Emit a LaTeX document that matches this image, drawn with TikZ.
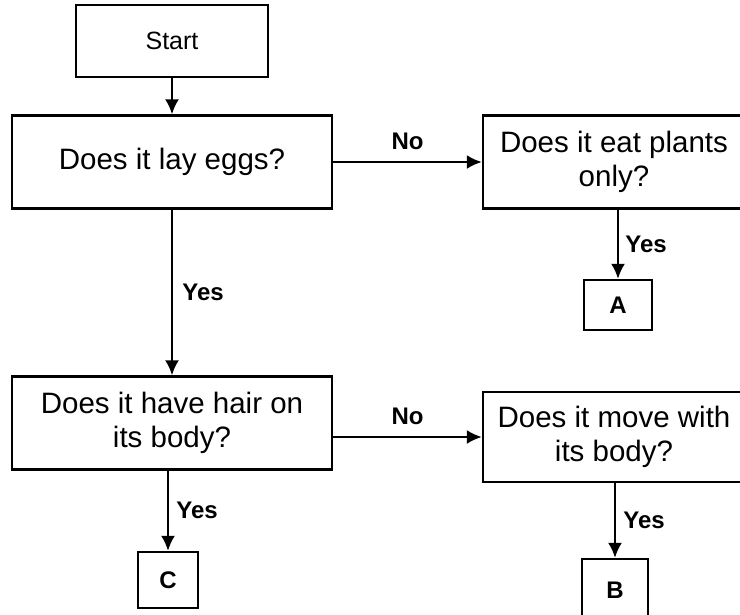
\documentclass[tikz,border=0pt]{standalone}
\usepackage{fontspec}
\setmainfont{Liberation Sans}
\usetikzlibrary{arrows.meta}

\tikzset{
  qbox/.style={draw, line width=2.4pt, inner sep=0pt, minimum height=93pt,
    align=center, font=\fontsize{29.5}{34}\selectfont},
  letterbox/.style={draw, line width=2.4pt, inner sep=0pt,
    font=\fontsize{24}{28}\selectfont\bfseries},
  flow/.style={line width=2.2pt, -{Latex[length=15pt,width=14pt]}},
  answer/.style={font=\fontsize{24}{28}\selectfont\bfseries}
}

\begin{document}
\begin{tikzpicture}[x=1pt,y=-1pt]
\useasboundingbox (0,0) rectangle (740,614);
\node [qbox, minimum width=192pt, minimum height=72pt, font=\fontsize{25}{29}\selectfont] (start) at (172,41) {Start};
\node [qbox, minimum width=320pt] (eggs) at (172,162) {Does it lay eggs?};
\node [qbox, minimum width=262pt] (plants) at (614,162) {Does it eat plants\\only?};
\node [letterbox, minimum width=68pt, minimum height=50pt] (A) at (618,305) {A};
\node [qbox, minimum width=320pt] (hair) at (172,423) {Does it have hair on\\its body?};
\node [qbox, minimum width=262pt, minimum height=90pt] (move) at (614,437) {Does it move with\\its body?};
\node [letterbox, minimum width=66pt, minimum height=62pt] (B) at (615,590) {B};
\node [letterbox, minimum width=60pt, minimum height=56pt] (C) at (168,580) {C};

\draw [flow] (start) -- (eggs);
\draw [flow] (eggs) -- node [answer, above=8pt] {No} (plants);
\draw [flow] (plants.south -| A.north) -- node [answer, right=3pt] {Yes} (A);
\draw [flow] (eggs) -- node [answer, right=6pt] {Yes} (hair);
\draw [flow] (hair.east |- move) -- node [answer, above=8pt] {No} (move);
\draw [flow] (move.south -| B.north) -- node [answer, right=4pt] {Yes} (B);
\draw [flow] (hair.south -| C.north) -- node [answer, right=4pt] {Yes} (C);
\end{tikzpicture}
\end{document}
